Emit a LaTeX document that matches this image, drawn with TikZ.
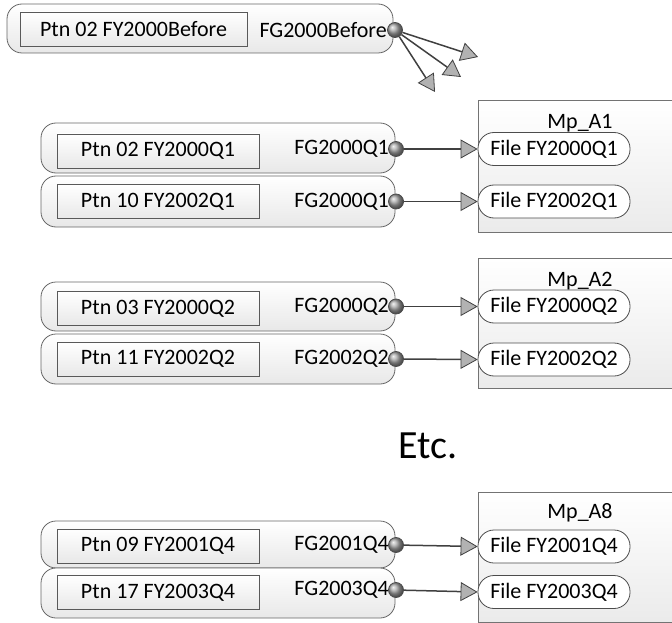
\documentclass[tikz,border=0pt]{standalone}
\usepackage{fontspec}
\setmainfont{Carlito}
\usetikzlibrary{arrows.meta}
\tikzset{
  x=1pt, y=-1pt,
  txt/.style={font=\fontsize{22}{26}\selectfont},
  outerbox/.style={draw=black!60, line width=0.8pt, rounded corners=15pt,
    top color=white, bottom color=black!9, minimum width=354pt,
    minimum height=#1, inner sep=0pt},
  outerbox/.default=49pt,
  ptnbox/.style={txt, draw=black!65, line width=0.8pt, top color=white,
    bottom color=black!9, minimum width=202pt, minimum height=34pt, inner sep=0pt},
  fglabel/.style={txt, anchor=east, inner sep=0pt},
  port/.style={circle, draw=black!70, line width=0.8pt, ball color=black!35,
    minimum size=15pt, inner sep=0pt},
  mpbox/.style={draw=black!55, line width=0.8pt, top color=white, bottom color=black!8,
    anchor=north west, minimum width=230pt, minimum height=#1, inner sep=0pt},
  filebox/.style={txt, draw=black!70, line width=0.8pt, rounded corners=16pt, fill=white,
    minimum width=152pt, minimum height=33pt, inner sep=0pt},
  mptitle/.style={txt, inner sep=0pt},
  conn/.style={draw=black!75, line width=1.5pt,
    -{Triangle[length=17pt, width=19pt, fill=black!30, line width=0.8pt]}},
}
\begin{document}
\begin{tikzpicture}
\useasboundingbox (0,0) rectangle (672,623);

% top group
\node[outerbox, minimum width=386pt] (o0) at (200,28.5) {};
\node[ptnbox, minimum width=227pt] (n0) at (133.5,29) {Ptn 02 FY2000Before};
\node[fglabel] (g0) at (387,30) {FG2000Before};
\node[port] (p0) at (395,30) {};
\coordinate (t1) at (478,57);
\coordinate (t2) at (461,77);
\coordinate (t3) at (435,92);
\draw[conn] (p0) -- (t1);
\draw[conn] (p0) -- (t2);
\draw[conn] (p0) -- (t3);

% group 1
\node[mpbox=132pt] (m1) at (478,100) {};
\node[mptitle] (mt1) at (580,123) {Mp\_A1};
\node[outerbox=50pt] (o11) at (218,148) {};
\node[outerbox=51pt] (o12) at (218,201.5) {};
\node[ptnbox] (n11) at (158,151) {Ptn 02 FY2000Q1};
\node[ptnbox] (n12) at (158,201.5) {Ptn 10 FY2002Q1};
\node[fglabel] (g11) at (389,149) {FG2000Q1};
\node[fglabel] (g12) at (389,201.5) {FG2000Q1};
\node[port] (p11) at (396,149) {};
\node[port] (p12) at (396,201.5) {};
\node[filebox] (f11) at (554,149) {File FY2000Q1};
\node[filebox] (f12) at (554,201.5) {File FY2002Q1};
\draw[conn] (p11) -- (f11.west);
\draw[conn] (p12) -- (f12.west);

% group 2
\node[mpbox=130pt] (m2) at (478,258) {};
\node[mptitle] (mt2) at (580,281) {Mp\_A2};
\node[outerbox=49pt] (o21) at (218,306.5) {};
\node[outerbox=50pt] (o22) at (218,359) {};
\node[ptnbox] (n21) at (158,308.5) {Ptn 03 FY2000Q2};
\node[ptnbox] (n22) at (158,359) {Ptn 11 FY2002Q2};
\node[fglabel] (g21) at (389,306.5) {FG2000Q2};
\node[fglabel] (g22) at (389,359) {FG2002Q2};
\node[port] (p21) at (396,306.5) {};
\node[port] (p22) at (396,359) {};
\node[filebox] (f21) at (554,306.5) {File FY2000Q2};
\node[filebox] (f22) at (554,359.5) {File FY2002Q2};
\draw[conn] (p21) -- (f21.west);
\draw[conn] (p22) -- (f22.west);

% Etc.
\node[font=\fontsize{40}{44}\selectfont, inner sep=0pt] (etc) at (428,446) {Etc.};

% group 3
\node[mpbox=130pt] (m3) at (478,492) {};
\node[mptitle] (mt3) at (580,513) {Mp\_A8};
\node[outerbox=47pt] (o31) at (218,544.5) {};
\node[outerbox=50pt] (o32) at (218,593) {};
\node[ptnbox] (n31) at (158,546) {Ptn 09 FY2001Q4};
\node[ptnbox] (n32) at (158,592.5) {Ptn 17 FY2003Q4};
\node[fglabel] (g31) at (389,545) {FG2001Q4};
\node[fglabel] (g32) at (389,590) {FG2003Q4};
\node[port] (p31) at (396,545) {};
\node[port] (p32) at (396,590) {};
\node[filebox] (f31) at (554,546.5) {File FY2001Q4};
\node[filebox] (f32) at (554,592) {File FY2003Q4};
\draw[conn] (p31) -- (f31.west);
\draw[conn] (p32) -- (f32.west);
\end{tikzpicture}
\end{document}
